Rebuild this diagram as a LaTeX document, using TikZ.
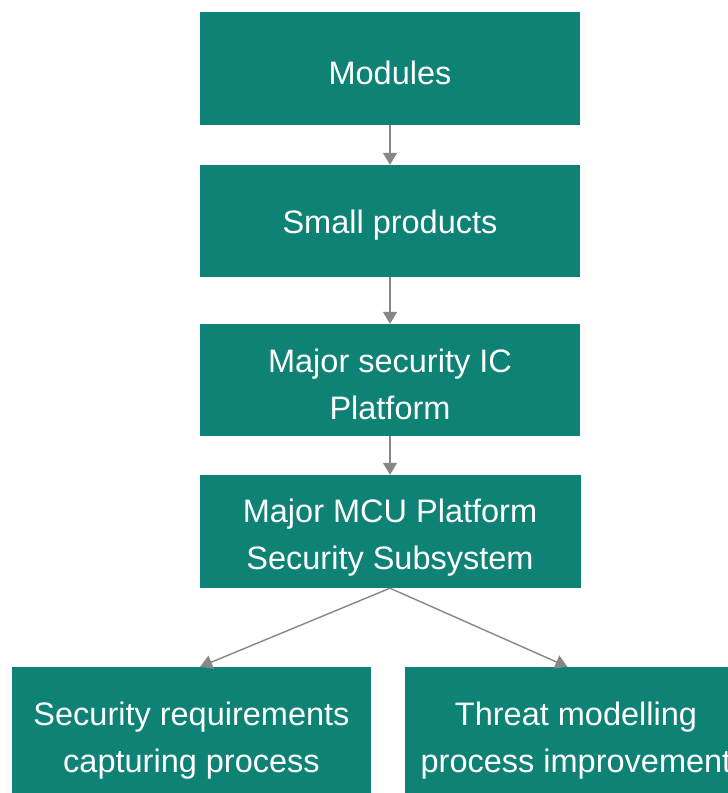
\documentclass[tikz,border=0pt]{standalone}
\usepackage{fontspec}
\setmainfont{Liberation Sans}
\usetikzlibrary{arrows.meta}
\definecolor{boxteal}{RGB}{14,130,117}
\definecolor{arrowgray}{RGB}{138,134,134}
\tikzset{
  flowbox/.style={rectangle, fill=boxteal, draw=none, inner sep=0pt},
  boxtext/.style={text=white, inner sep=0pt, align=center,
    font=\fontsize{32.5}{47}\selectfont, yshift=-4pt},
  flowarrow/.style={draw=arrowgray, line width=1.4pt, -{Triangle[length=12pt,width=14pt]}}
}
\begin{document}
\begin{tikzpicture}[x=1pt,y=-1pt]
\useasboundingbox (0,0) rectangle (728,793);
\clip (0,0) rectangle (728,793);
\node[flowbox, minimum width=380pt, minimum height=113pt,
  label={[boxtext]center:Modules}] (mod) at (390,68.5) {};
\node[flowbox, minimum width=380pt, minimum height=112pt,
  label={[boxtext]center:Small products}] (small) at (390,221) {};
\node[flowbox, minimum width=380pt, minimum height=112pt,
  label={[boxtext]center:Major security IC\\Platform}] (ic) at (390,380) {};
\node[flowbox, minimum width=381pt, minimum height=113pt,
  label={[boxtext, yshift=-2.5pt]center:Major MCU Platform\\Security Subsystem}] (mcu) at (390,531.5) {};
\node[flowbox, minimum width=359pt, minimum height=140pt,
  label={[boxtext]center:Security requirements\\capturing process}] (req) at (191.5,737) {};
\node[flowbox, minimum width=342pt, minimum height=140pt,
  label={[boxtext]center:Threat modelling\\process improvement}] (thr) at (576,737) {};
\draw[flowarrow] (mod.south) -- (small.north);
\draw[flowarrow] (small.south) -- (ic.north);
\draw[flowarrow] (ic.south) -- (mcu.north);
\draw[flowarrow] (mcu.south) -- (req.83);
\draw[flowarrow] (mcu.south) -- (thr.97);
\end{tikzpicture}
\end{document}
